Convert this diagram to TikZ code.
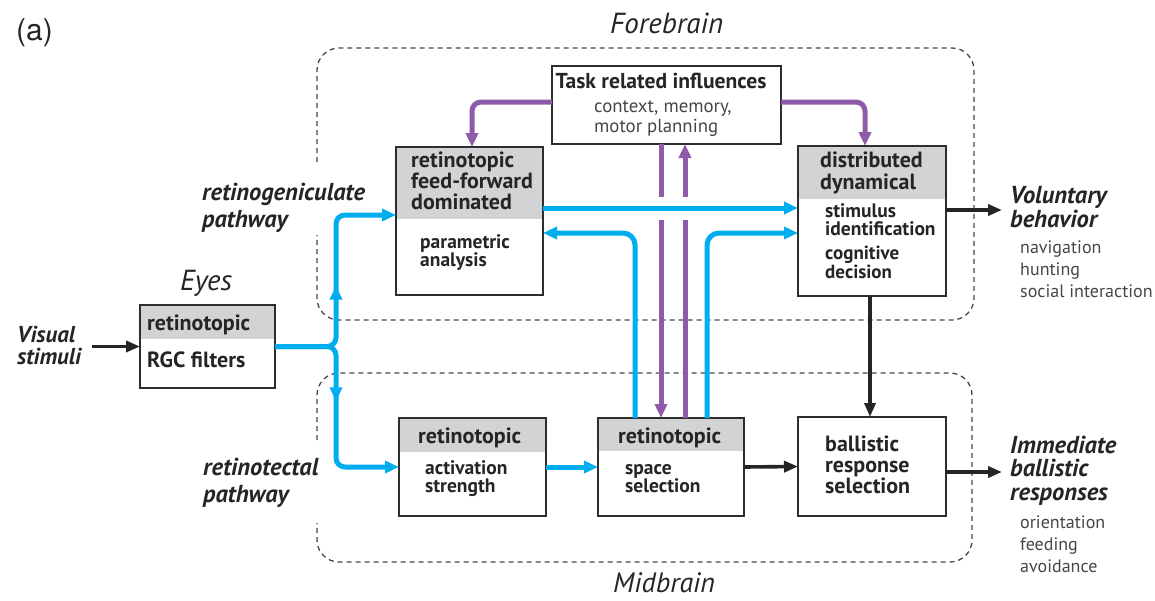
\documentclass[tikz,border=0pt]{standalone}
\usepackage{fontspec}
\setmainfont{PT Sans}
\newfontfamily\tagfont{TeX Gyre Heros}
\usetikzlibrary{arrows.meta,calc,decorations.markings}

\definecolor{cyanc}{RGB}{0,174,239}
\definecolor{purp}{RGB}{142,91,168}
\definecolor{hdr}{RGB}{209,211,212}
\definecolor{ink}{RGB}{38,36,37}
\definecolor{subink}{RGB}{70,70,72}
\definecolor{boxline}{RGB}{45,45,45}
\definecolor{dashc}{RGB}{70,70,70}

\begin{document}
\begin{tikzpicture}[x=1pt,y=-1pt,
  box/.style={draw=boxline, line width=2.4pt, fill=white, inner sep=0pt, outer sep=0pt},
  hdrbox/.style={box, path picture={\fill[hdr] ([yshift=2pt]path picture bounding box.north west) rectangle ([yshift=-#1]path picture bounding box.north east);}},
  % multi-line texts are placed by the baseline of their last line
  txt/.style={anchor=base west, inner sep=0pt, align=left, text=ink},
  boxtxt/.style={txt, font=\bfseries\fontsize{22}{21}\selectfont},
  bodytxt/.style={txt, font=\bfseries\fontsize{19.5}{18}\selectfont},
  pathlbl/.style={txt, font=\bfseries\itshape\fontsize{24.5}{27}\selectfont},
  outlbl/.style={txt, font=\bfseries\itshape\fontsize{24.5}{23.5}\selectfont},
  sublbl/.style={txt, text=subink, font=\fontsize{18}{22}\selectfont},
  regionlbl/.style={txt, font=\itshape\fontsize{29}{30}\selectfont},
  region/.style={draw=dashc, line width=1.3pt, dash pattern=on 5pt off 4pt, rounded corners=22},
  cy/.style={draw=cyanc, line width=5pt},
  pu/.style={draw=purp, line width=5pt},
  bk/.style={draw=ink, line width=3.6pt},
  cytip/.style={-{Triangle[length=14pt,width=12pt]}},
  bktip/.style={-{Triangle[length=14pt,width=11pt]}},
  midtip/.style={postaction={decorate}, decoration={markings, mark=at position #1 with {\arrow{Triangle[length=14pt,width=12pt]}}}}
]
\useasboundingbox (0,0) rectangle (1155,600);

% brain regions
\draw[region] (317,162) -- (317,48) -- (974,48) -- (974,320) -- (317,320) -- (317,235);
\draw[region] (317,440) -- (317,373) -- (972,373) -- (972,562) -- (317,562) -- (317,523);
\node[regionlbl] (fore) at (610,33) {Forebrain};
\node[regionlbl, font=\itshape\fontsize{28}{30}\selectfont] (mid) at (613,592) {Midbrain};
\node[anchor=base west, inner sep=0pt, text=ink, font=\tagfont\fontsize{30}{30}\selectfont] (tag) at (16,40) {(a)};

% processing stages
\node[hdrbox=34pt, minimum width=135pt, minimum height=83pt] (eyes) at (207.5,346.5) {};
\node[hdrbox=72pt, minimum width=147pt, minimum height=148pt] (ff) at (469.5,221) {};
\node[box, minimum width=229pt, minimum height=78pt] (task) at (666.5,105) {};
\node[hdrbox=53pt, minimum width=148pt, minimum height=150pt] (dist) at (872,221) {};
\node[hdrbox=34pt, minimum width=147pt, minimum height=98pt] (act) at (472.5,467) {};
\node[hdrbox=33pt, minimum width=146pt, minimum height=98pt] (space) at (671,467) {};
\node[box, minimum width=148pt, minimum height=99pt] (ball) at (872,466.5) {};

% box texts
\node[boxtxt] (eyesh) at (147,330) {retinotopic};
\node[boxtxt] (eyesb) at (147,367) {RGC filters};
\node[boxtxt] (ffh) at (411,209) {retinotopic\\feed-forward\\dominated};
\node[bodytxt] (ffb) at (420,266) {parametric\\analysis};
\node[txt, font=\bfseries\fontsize{21.6}{21}\selectfont, anchor=base] (taskh) at (661,88) {Task related influences};
\node[txt, text=subink, font=\fontsize{18.8}{19.5}\selectfont] (taskb) at (594,132) {context, memory,\\motor planning};
\node[boxtxt, font=\bfseries\fontsize{22}{22}\selectfont] (disth) at (820,189) {distributed\\dynamical};
\node[bodytxt] (distb1) at (825,235) {stimulus\\identification};
\node[bodytxt, font=\bfseries\fontsize{19}{17.5}\selectfont] (distb2) at (825,278) {cognitive\\decision};
\node[boxtxt] (acth) at (418,443) {retinotopic};
\node[bodytxt] (actb) at (425,492) {activation\\strength};
\node[boxtxt] (spaceh) at (618,443) {retinotopic};
\node[bodytxt] (spaceb) at (625,492) {space\\selection};
\node[boxtxt] (ballb) at (825,493) {ballistic\\response\\selection};

% side labels
\node[regionlbl] (eyeslbl) at (180,290) {Eyes};
\node[outlbl, font=\bfseries\itshape\fontsize{23}{21.5}\selectfont] (vis) at (17,364) {Visual\\stimuli};
\node[pathlbl] (rgp) at (202,227) {retinogeniculate\\pathway};
\node[pathlbl] (rtp) at (203,502) {retinotectal\\pathway};
\node[outlbl] (vol) at (1010,227) {Voluntary\\behavior};
\node[sublbl] (volsub) at (1020,297) {navigation\\hunting\\social interaction};
\node[outlbl] (imm) at (1010,500) {Immediate\\ballistic\\responses};
\node[sublbl] (immsub) at (1020,572) {orientation\\feeding\\avoidance};

\coordinate (visend) at (92,346.5);
\coordinate (volend) at (1002,210);
\coordinate (immend) at (1002,472);

% task related feedback
\draw[pu, cytip, rounded corners=9] ([yshift=3pt]task.west) -| ([xshift=2.5pt]ff.north);
\draw[pu, cytip, rounded corners=9] ([yshift=3pt]task.east) -| ([xshift=-7pt]dist.north);
\draw[pu, cytip] ([xshift=-5.5pt]task.south) -- ([xshift=-10pt]space.north);
\draw[pu, cytip] ([xshift=14pt]space.north) -- ([xshift=18.5pt]task.south);
\fill[white] (652,197) rectangle (696,220);

% visual pathways
\draw[cy, cytip, rounded corners=9, midtip=118pt] (eyes.east) -- (336,346.5) -- (336,215) -- ([yshift=6pt]ff.west);
\draw[cy, cytip, rounded corners=9, midtip=112pt] (eyes.east) -- (336,346.5) -- (336,467) -- (act.west);
\draw[cy, cytip] ([yshift=13pt]ff.east) -- ([yshift=13pt]dist.west);
\draw[cy, cytip, rounded corners=12] ([xshift=-36pt]space.north) |- ([yshift=-12pt]ff.east);
\draw[cy, cytip, rounded corners=12] ([xshift=36pt]space.north) |- ([yshift=-12pt]dist.west);
\draw[cy, cytip] (act.east) -- (space.west);

% outputs
\draw[bk, bktip] (visend) -- (eyes.west);
\draw[bk, bktip] ([xshift=-2pt]dist.south) -- ([xshift=-2pt]ball.north);
\draw[bk, bktip] (space.east) -- (ball.west);
\draw[bk, bktip] ([yshift=11pt]dist.east) -- (volend);
\draw[bk, bktip] ([yshift=-5.5pt]ball.east) -- (immend);
\end{tikzpicture}
\end{document}
